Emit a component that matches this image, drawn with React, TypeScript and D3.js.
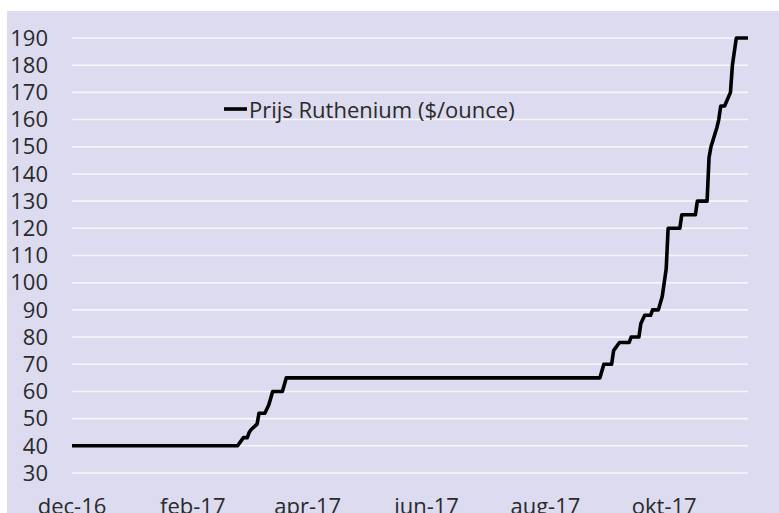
import * as d3 from 'd3'

// price changes of ruthenium
const dates = [
  '2016-12-01', '2017-02-24', '2017-02-27', '2017-03-01', '2017-03-02', '2017-03-03',
  '2017-03-06', '2017-03-07', '2017-03-10', '2017-03-12', '2017-03-14', '2017-03-19',
  '2017-03-21', '2017-08-29', '2017-08-31', '2017-09-04', '2017-09-05', '2017-09-07',
  '2017-09-08', '2017-09-13', '2017-09-14', '2017-09-18', '2017-09-19', '2017-09-21',
  '2017-09-24', '2017-09-25', '2017-09-28', '2017-09-30', '2017-10-02', '2017-10-03',
  '2017-10-09', '2017-10-10', '2017-10-17', '2017-10-18', '2017-10-23', '2017-10-24',
  '2017-10-25', '2017-10-28', '2017-10-29', '2017-10-30', '2017-11-01', '2017-11-04',
  '2017-11-05', '2017-11-06', '2017-11-07', '2017-11-13',
]
const prices = [
  40, 40, 43, 43, 45, 46,
  48, 52, 52, 55, 60, 60,
  65, 65, 70, 70, 75, 77,
  78, 78, 80, 80, 85, 88,
  88, 90, 90, 95, 105, 120,
  120, 125, 125, 130, 130, 146,
  150, 157, 160, 165, 165, 170,
  180, 185, 190, 190,
]
const yTicks = [30, 40, 50, 60, 70, 80, 90, 100, 110, 120, 130, 140, 150, 160, 170, 180, 190]
const xTicks = ['2016-12-01', '2017-02-01', '2017-04-01', '2017-06-01', '2017-08-01', '2017-10-01']
const xLabels = ['dec-16', 'feb-17', 'apr-17', 'jun-17', 'aug-17', 'okt-17']
const seriesName = 'Prijs Ruthenium ($/ounce)'

const font = '"Open Sans", "Noto Sans", sans-serif'

export default function App() {
  const width = 779, height = 513

  const parse = d3.timeParse('%Y-%m-%d')
  const data = dates.map((d, i) => ({ date: parse(d) as Date, value: prices[i] }))

  const x = d3.scaleTime()
    .domain([parse('2016-12-01') as Date, parse('2017-11-13') as Date])
    .range([72, 748])

  const y = d3.scaleLinear()
    .domain([30, 190])
    .range([473, 38])

  const line = d3.line<{ date: Date, value: number }>()
    .x(d => x(d.date))
    .y(d => y(d.value))

  return (
    <svg width={width} height={height} style={{ position: 'fixed', left: 0, top: 0 }}>
      <rect x={0} y={0} width={width} height={height} fill="#ffffff" />
      <rect x={7} y={11} width={width - 7} height={height - 11} fill="#dcdbef" />
      {yTicks.map(t => (
        <g key={t}>
          <line x1={72} x2={748} y1={y(t)} y2={y(t)} stroke="#f7f7fb" strokeWidth={1.6} />
          <text x={48} y={y(t)} dy="0.35em" textAnchor="end" fontFamily={font}
            fontSize={22} fill="#2a2a2a">{t}</text>
        </g>
      ))}
      {xTicks.map((t, i) => (
        <text key={t} x={x(parse(t) as Date)} y={514} textAnchor="middle" fontFamily={font}
          fontSize={22} fill="#2a2a2a">{xLabels[i]}</text>
      ))}
      <path d={line(data) ?? ''} fill="none" stroke="#000" strokeWidth={3.6}
        strokeLinejoin="round" />
      {/* legend */}
      <line x1={224} x2={247} y1={109} y2={109} stroke="#000" strokeWidth={3.6} />
      <text x={249} y={118} fontFamily={font} fontSize={22} fill="#2a2a2a">
        {seriesName}
      </text>
    </svg>
  )
}
